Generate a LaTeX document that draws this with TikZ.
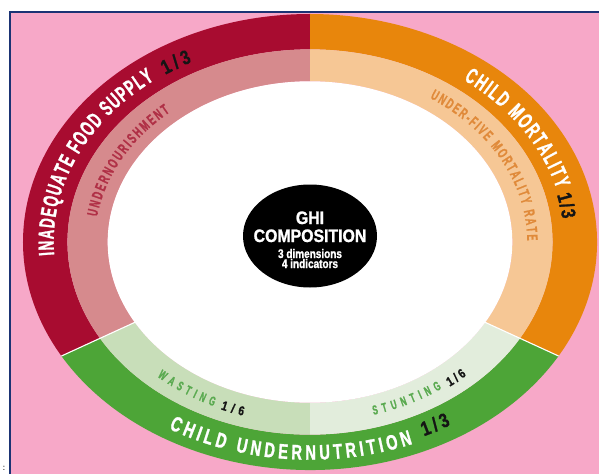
\documentclass[tikz,border=0pt]{standalone}
\usepackage{fontspec}
\newfontfamily\cond[FakeStretch=0.6,FakeBold=1.2]{Liberation Sans}
\newfontfamily\condc[FakeStretch=0.7,FakeBold=1.2]{Liberation Sans}
\newfontfamily\condb[FakeStretch=0.8,FakeBold=1.2]{Liberation Sans}
\newfontfamily\condd[FakeStretch=0.88,FakeBold=1.3]{Liberation Sans}
\usetikzlibrary{decorations.text,shapes.geometric}
\definecolor{bgpink}{HTML}{F7A8C8}
\definecolor{navy}{HTML}{1B3374}
\definecolor{redD}{HTML}{A80C30}
\definecolor{redL}{HTML}{D68A8D}
\definecolor{orgD}{HTML}{E8860C}
\definecolor{orgL}{HTML}{F6C795}
\definecolor{grnD}{HTML}{4DA537}
\definecolor{wasteC}{HTML}{C8DEB9}
\definecolor{stuntC}{HTML}{E2EDDC}
\definecolor{redT}{HTML}{B03046}
\definecolor{orgT}{HTML}{E08A3A}
\definecolor{grnT}{HTML}{5AAA50}
\definecolor{blk}{HTML}{151515}
\newcommand\ringseg[5]{%
  \pgfmathsetmacro\rxo{287*#3}\pgfmathsetmacro\ryo{228*#3}%
  \pgfmathsetmacro\rxi{287*#4}\pgfmathsetmacro\ryi{228*#4}%
  \fill[#5] (#1:\rxo pt and \ryo pt) arc[start angle=#1,end angle=#2,x radius=\rxo pt,y radius=\ryo pt]
    -- (#2:\rxi pt and \ryi pt) arc[start angle=#2,end angle=#1,x radius=\rxi pt,y radius=\ryi pt] -- cycle;}
% [align]{font}{colour}{size}{scale}{start}{end}{text}
\newcommand\arctext[8][fit to path]{%
  \pgfmathsetmacro\rxt{287*#5}\pgfmathsetmacro\ryt{228*#5}%
  \path[decorate,decoration={text along path,text align={#1},text color=#3,
     text={|#2\bfseries\fontsize{#4}{#4}\selectfont|#8}}]
     (#6:\rxt pt and \ryt pt) arc[start angle=#6,end angle=#7,x radius=\rxt pt,y radius=\ryt pt];}
\tikzset{sep/.style={white,line width=1.1pt},
  centertxt/.style={text=white,anchor=base,inner sep=0pt}}
\begin{document}
\begin{tikzpicture}[x=1pt,y=1pt]
\useasboundingbox (-310,-232) rectangle (289,242);
\fill[white] (-310,-232) rectangle (289,242);
\fill[bgpink] (-300,-232) rectangle (289,230);
\draw[navy,line width=2.5pt] (-300,-232) -- (-300,230) -- (289,230);
% ring
\ringseg{90}{210}{1}{0.845}{redD}
\ringseg{90}{210}{0.845}{0.705}{redL}
\ringseg{-30}{90}{1}{0.845}{orgD}
\ringseg{-30}{90}{0.845}{0.705}{orgL}
\ringseg{210}{330}{1}{0.845}{grnD}
\ringseg{210}{270}{0.845}{0.705}{wasteC}
\ringseg{270}{330}{0.845}{0.705}{stuntC}
\fill[white] (0,0) ellipse[x radius=202.3pt,y radius=160.7pt];
\draw[sep] (210:202.3pt and 160.7pt) -- (210:287pt and 228pt);
\draw[sep] (330:202.3pt and 160.7pt) -- (330:287pt and 228pt);
% curved labels
\arctext{\cond}{white}{22}{0.893}{183.7}{127.4}{INADEQUATE FOOD SUPPLY}
\arctext{\condb}{blk}{20}{0.89}{124.5}{117.5}{1/3}
\arctext{\cond}{redT}{15}{0.75}{171.5}{130.6}{UNDERNOURISHMENT}
\arctext{\cond}{white}{22}{0.89}{53}{15.2}{CHILD MORTALITY}
\arctext{\condb}{blk}{20}{0.885}{13.5}{6.5}{1/3}
\arctext{\cond}{orgT}{15}{0.757}{56.5}{0.5}{UNDER-FIVE MORTALITY RATE}
\arctext{\condc}{white}{21}{0.955}{239}{292}{CHILD UNDERNUTRITION}
\arctext{\condb}{blk}{20}{0.94}{295}{301.5}{1/3}
\arctext{\cond}{grnT}{13}{0.795}{228}{245}{WASTING}
\arctext{\condb}{blk}{13}{0.797}{247}{253}{1/6}
\arctext{\cond}{grnT}{13}{0.79}{286.3}{305.5}{STUNTING}
\arctext{\condb}{blk}{13}{0.80}{307.5}{313}{1/6}
% centre
\node[ellipse,fill=black,minimum width=134pt,minimum height=103pt,inner sep=0pt] (ghi) at (0,6) {};
\node[centertxt,font=\condd\bfseries\fontsize{18}{18}\selectfont] (ghiA) at (0,18) {GHI};
\node[centertxt,font=\condd\bfseries\fontsize{18}{18}\selectfont] (ghiB) at (0,0) {COMPOSITION};
\node[centertxt,font=\condb\bfseries\fontsize{12.5}{12.5}\selectfont] (ghiC) at (0,-16) {3 dimensions};
\node[centertxt,font=\condb\bfseries\fontsize{12.5}{12.5}\selectfont] (ghiD) at (0,-26) {4 indicators};
\node[inner sep=0pt,font=\fontsize{10}{10}\selectfont] (dots) at (-306,-226) {:};
\end{tikzpicture}
\end{document}
